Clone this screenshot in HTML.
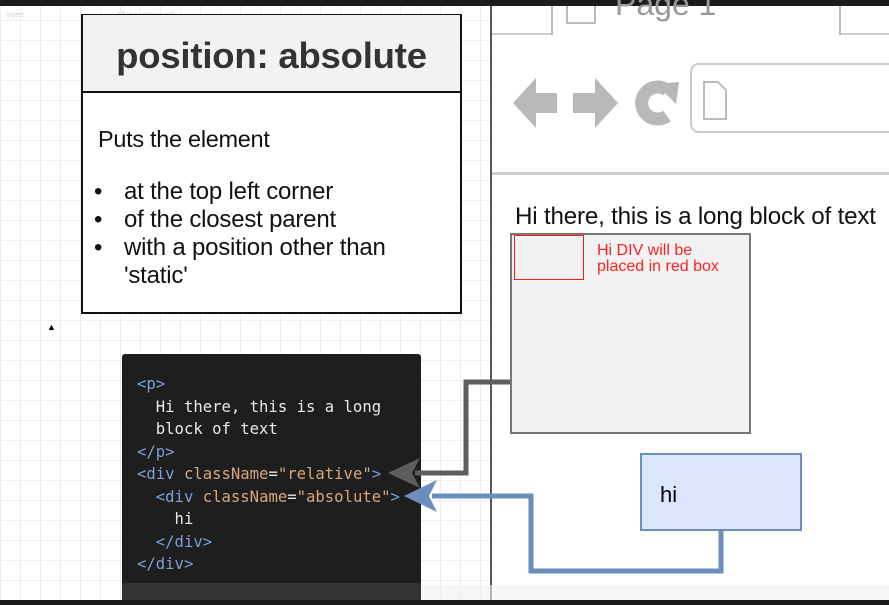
<!DOCTYPE html>
<html><head><meta charset="utf-8"><style>
*{margin:0;padding:0;box-sizing:border-box}
body{width:889px;height:605px;overflow:hidden;position:relative;font-family:"Liberation Sans",sans-serif;
background-color:#fff;
background-image:linear-gradient(#eeeeee 1px,transparent 1px),linear-gradient(90deg,#eeeeee 1px,transparent 1px);
background-size:20px 20px;background-position:0 0}
.a{position:absolute}
.mono{font-family:"DejaVu Sans Mono","Liberation Mono",monospace;font-size:15.6px;line-height:22.5px;white-space:pre;color:#e8e8e8}
.t{color:#7b9fd6}.at{color:#d7a77a}.s{color:#d7a77a}
.li{position:relative;padding-left:30px}
.li:before{content:"•";position:absolute;left:0}
</style></head><body>
<div class="a" style="left:0;top:0;width:889px;height:6px;background:#1b1b1b"></div>
<div class="a" style="left:0;top:12px;width:480px;font-size:7px;color:#ccc;padding-left:4px">&nbsp;Insert&nbsp;&nbsp;&nbsp;&nbsp;&nbsp;&nbsp;&nbsp;&nbsp;&nbsp;&nbsp;&nbsp;&nbsp;&nbsp;&nbsp;&nbsp;&nbsp;&nbsp;&nbsp;&nbsp;&nbsp;&nbsp;&nbsp;&nbsp;&nbsp;&nbsp;&nbsp;&nbsp;&nbsp;&nbsp;&nbsp;&nbsp;&nbsp;&nbsp;&nbsp;&nbsp;&nbsp;&nbsp;&nbsp;&nbsp;&nbsp;&nbsp;&nbsp;&nbsp;&nbsp;&nbsp;&nbsp;&nbsp;&nbsp;All changes saved</div>
<div class="a" style="left:81px;top:14px;width:381px;height:300px;border:2px solid #111;background:#fff"></div>
<div class="a" style="left:83px;top:15px;width:377px;height:78px;background:#f2f2f2;border-bottom:2px solid #111;font-size:36.5px;font-weight:bold;color:#333;text-align:center;line-height:82px;letter-spacing:-0.2px">position: absolute</div>
<div class="a" style="left:98px;top:126px;font-size:23.5px;color:#111;letter-spacing:-0.3px">Puts the element</div>
<div class="a" style="left:94px;top:178px;font-size:24px;color:#111;line-height:28px;letter-spacing:-0.2px">
<div class="li">at the top left corner</div>
<div class="li">of the closest parent</div>
<div class="li">with a position other than</div>
<div style="padding-left:30px">'static'</div></div>
<div class="a" style="left:47px;top:322px;font-size:9px">▲</div>
<div class="a" style="left:122px;top:354px;width:299px;height:246px;background:#1e1e1e;border-radius:3px"></div>
<div class="a" style="left:122px;top:583px;width:299px;height:17px;background:#333"></div>
<div class="a mono" style="left:137px;top:373px"><span class="t">&lt;p&gt;</span>
  Hi there, this is a long
  block of text
<span class="t">&lt;/p&gt;</span>
<span class="t">&lt;div</span> <span class="at">className</span>=<span class="s">"relative"</span><span class="t">&gt;</span>
  <span class="t">&lt;div</span> <span class="at">className</span>=<span class="s">"absolute"</span><span class="t">&gt;</span>
    hi
  <span class="t">&lt;/div&gt;</span>
<span class="t">&lt;/div&gt;</span></div>
<div class="a" style="left:490px;top:6px;width:399px;height:594px;background:#fff;border-left:2px solid #555"></div>
<div class="a" style="left:492px;top:33px;width:397px;height:2px;background:#ccc"></div>
<div class="a" style="left:551px;top:6px;width:290px;height:29px;border-left:2px solid #bbb;border-right:2px solid #bbb;background:#fff"></div>
<div class="a" style="left:566px;top:6px;width:30px;height:18px;border:2px solid #bbb;border-top:none"></div>
<div class="a" style="left:615px;top:-14px;font-size:32px;color:#999">Page 1</div>
<div class="a" style="left:492px;top:172px;width:397px;height:3px;background:#ccc"></div>
<svg class="a" style="left:490px;top:60px" width="399" height="80">
<polygon points="23,43 46,18 46,33 67,33 67,53 46,53 46,68" fill="#b8b8b8"/>
<polygon points="128,43 105,18 105,33 83,33 83,53 105,53 105,68" fill="#b8b8b8"/>
<path d="M177,30 A16,16 0 1 0 177,56" stroke="#b8b8b8" stroke-width="13" fill="none"/>
<polygon points="166,24 189,22 186,44" fill="#b8b8b8"/>
<rect x="201" y="4" width="210" height="68" rx="8" fill="#fff" stroke="#ccc" stroke-width="2"/>
<path d="M214,22 h14 l8,8 v29 h-22 z" fill="none" stroke="#bbb" stroke-width="2"/>
</svg>
<div class="a" style="left:515px;top:203px;font-size:24.2px;color:#111;letter-spacing:-0.2px">Hi there, this is a long block of text</div>
<div class="a" style="left:510px;top:233px;width:241px;height:201px;background:#f2f2f2;border:2px solid #777"></div>
<div class="a" style="left:514px;top:235px;width:70px;height:45px;border:1px solid #e21"></div>
<div class="a" style="left:597px;top:243px;font-size:16px;color:#f22;line-height:16px">Hi DIV will be<br>placed in red box</div>
<div class="a" style="left:640px;top:453px;width:162px;height:78px;background:#dae6fb;border:2px solid #6c8ebf;font-size:22px;padding:27px 0 0 18px">hi</div>
<svg class="a" style="left:0;top:0" width="889" height="605">
<polyline points="510,382 466,382 466,473 415,473" fill="none" stroke="#5e5e5e" stroke-width="5"/>
<polygon points="388,473 420,458 412,473 420,488" fill="#5e5e5e"/>
<polyline points="721,531 721,571 531,571 531,496 432,496" fill="none" stroke="#6c8ebf" stroke-width="5"/>
<polygon points="404,496 437,480 429,496 437,512" fill="#6c8ebf"/>
</svg>
<div class="a" style="left:422px;top:585px;width:467px;height:15px;background:rgba(240,240,240,.6)"></div>
<div class="a" style="left:0;top:600px;width:889px;height:5px;background:#1b1b1b"></div>
</body></html>
